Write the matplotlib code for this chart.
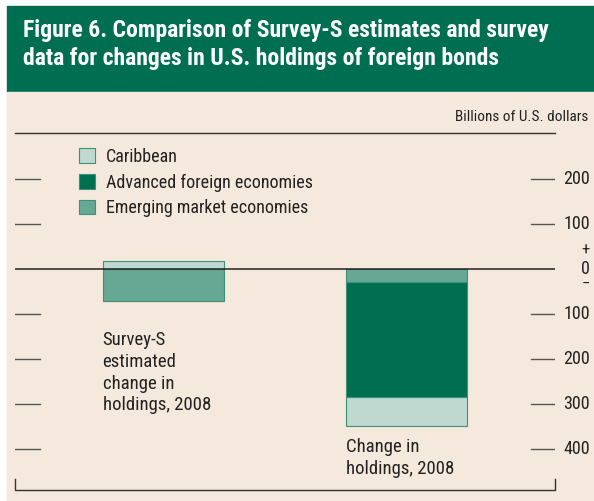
import numpy as np
import matplotlib
matplotlib.use("Agg")
import matplotlib.pyplot as plt
from matplotlib.patches import Rectangle
from matplotlib.transforms import blended_transform_factory

plt.rcParams['font.family'] = ['Roboto Condensed', 'DejaVu Sans']

# data (billions of U.S. dollars)
groups = ["Survey-S\nestimated\nchange in\nholdings, 2008", "Change in\nholdings, 2008"]
caribbean = np.array([18, -65])
advanced = np.array([-1, -256])
emerging = np.array([-71, -28])
ticks = [200, 100, 0, -100, -200, -300, -400]

dark = '#006f51'
mid = '#66a894'
light = '#bfd9d1'
edge = '#3f9079'
bg = '#f4e9dc'

W, H = 594, 501
fig = plt.figure(figsize=(W / 100, H / 100), dpi=100, facecolor='white')

def fx(x):
    return x / W

def fy(y):
    return 1 - y / H

# title band and background
fig.patches.append(Rectangle((fx(7), fy(92)), 1, fy(6) - fy(92), transform=fig.transFigure,
                             color=dark, zorder=-10))
fig.patches.append(Rectangle((fx(7), 0), 1, fy(92), transform=fig.transFigure,
                             color=bg, zorder=-10))
fig.text(fx(23), fy(30), "Figure 6. Comparison of Survey-S estimates and survey",
         color='white', fontsize=17, fontweight='bold', va='center', ha='left')
fig.text(fx(23), fy(59), "data for changes in U.S. holdings of foreign bonds",
         color='white', fontsize=17, fontweight='bold', va='center', ha='left')
fig.text(fx(588), fy(117), "Billions of U.S. dollars", fontsize=11, ha='right', va='center',
         color='#222222')

# axes: x 15..555 px, y 133..490 px, zero at 269 px, 45 px per 100
ax = fig.add_axes([fx(15), fy(490), fx(555) - fx(15), fy(133) - fy(490)])
ax.set_facecolor('none')
ax.set_ylim(-(490 - 269) / 0.45, (269 - 133) / 0.45)
ax.set_xlim(-0.61, 1.61)

x = np.arange(len(groups))
w = 0.50
em_bottom = np.zeros(len(x))
adv_bottom = em_bottom + np.minimum(emerging, 0)
car_bottom = np.where(caribbean > 0, 0, adv_bottom + np.minimum(advanced, 0))

ax.bar(x, caribbean, w, bottom=car_bottom, color=light, edgecolor=edge, lw=0.8,
       label='Caribbean', zorder=2)
ax.bar(x, advanced, w, bottom=adv_bottom, color=dark, edgecolor=edge, lw=0.8,
       label='Advanced foreign economies', zorder=2)
ax.bar(x, emerging, w, bottom=em_bottom, color=mid, edgecolor=edge, lw=0.8,
       label='Emerging market economies', zorder=2)

ax.axhline(0, color='#222222', lw=1.1, zorder=3)
for t in ticks:
    if t != 0:
        ax.axhline(t, xmin=0, xmax=25 / 540, color='#555555', lw=1)
        ax.axhline(t, xmin=516 / 540, xmax=1, color='#555555', lw=1)

# right side labels
tr = blended_transform_factory(ax.transAxes, ax.transData)
xr = (590 - 15) / 540
for t in ticks:
    ax.text(xr, t, str(abs(t)), transform=tr, ha='right', va='center', fontsize=13,
            color='#222222')
ax.text(xr, 19 / 0.45, '+', transform=tr, ha='right', va='center', fontsize=12, color='#222222')
ax.text(xr, -15.5 / 0.45, '−', transform=tr, ha='right', va='center', fontsize=12, color='#222222')

# bar annotations
ax.text(x[0] - w / 2, -(331 - 269) / 0.45, groups[0], ha='left', va='top', fontsize=13.5,
        linespacing=1.27, color='#222222')
ax.text(x[1] - w / 2, -(438 - 269) / 0.45, groups[1], ha='left', va='top', fontsize=13.5,
        linespacing=1.27, color='#222222')

# frame: top rule and bottom bracket
for s in ['left', 'right', 'bottom']:
    ax.spines[s].set_visible(False)
ax.spines['top'].set_color('#333333')
ax.spines['top'].set_linewidth(1)
ax.plot([0, 0, 1, 1], [0.03, 0, 0, 0.03], transform=ax.transAxes, color='#333333', lw=1,
        clip_on=False)
ax.set_xticks([])
ax.set_yticks([])

ax.legend(loc='upper left', bbox_to_anchor=(fx(79), fy(148)), bbox_transform=fig.transFigure,
          frameon=False, fontsize=13, handlelength=0.88, handleheight=0.88,
          handletextpad=0.6, labelspacing=0.42, borderpad=0, borderaxespad=0,
          labelcolor='#222222')

fig.savefig('out.png', dpi=100, facecolor='white')
